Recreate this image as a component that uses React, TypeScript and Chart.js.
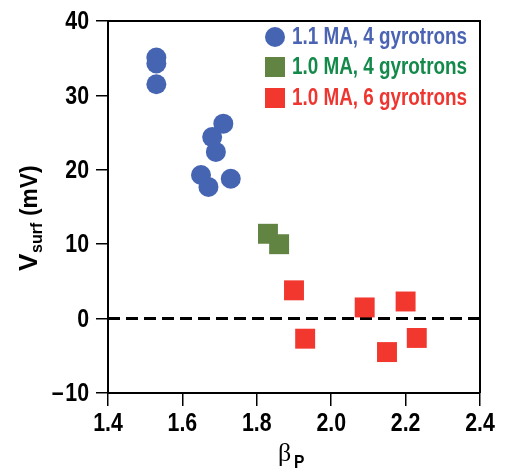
import React, { useEffect, useRef } from 'react';
import { Chart, registerables } from 'chart.js';
Chart.register(...registerables);

const seriesLabels = ['1.1 MA, 4 gyrotrons', '1.0 MA, 4 gyrotrons', '1.0 MA, 6 gyrotrons'];
const blueX = [1.53, 1.53, 1.53, 1.71, 1.68, 1.69, 1.65, 1.67, 1.73];
const blueY = [35.1, 34.3, 31.5, 26.2, 24.4, 22.4, 19.3, 17.7, 18.8];
const greenX = [1.83, 1.86];
const greenY = [11.4, 10.0];
const redX = [1.9, 1.93, 2.09, 2.2, 2.15, 2.23];
const redY = [3.8, -2.7, 1.5, 2.3, -4.5, -2.6];
const xTicks = [1.4, 1.6, 1.8, 2.0, 2.2, 2.4];
const yTicks = [-10, 0, 10, 20, 30, 40];
const zeroLine = [0, 0];

const FONT = '"Liberation Sans", Arial, sans-serif';
const SQZ = 0.82;
const markerColors = ['#4565B3', '#628443', '#F2372E'];
const textColors = ['#4A63B2', '#13894A', '#EE3530'];

const pts = (xs: number[], ys: number[]) => xs.map((x, i) => ({ x, y: ys[i] }));

function narrowText(ctx: any, text: string, x: number, y: number, align: 'left' | 'right' | 'center', sq: number = SQZ) {
  const w = ctx.measureText(text).width * sq;
  let x0 = x;
  if (align === 'right') x0 = x - w;
  else if (align === 'center') x0 = x - w / 2;
  ctx.save();
  ctx.translate(x0, y);
  ctx.scale(sq, 1);
  ctx.textAlign = 'left';
  ctx.fillText(text, 0, 0);
  ctx.restore();
  return w;
}

const xLabel = (v: number) => v.toFixed(1);
const yLabel = (v: number) => (v < 0 ? '\u2013\u200A' + Math.abs(v) : String(v));

const decorPlugin = {
  id: 'decor',
  afterDraw(chart: any) {
    const ctx = chart.ctx;
    const a = chart.chartArea;
    ctx.save();
    // frame top & right
    ctx.strokeStyle = '#000';
    ctx.lineWidth = 2;
    ctx.beginPath();
    ctx.moveTo(a.left, a.top);
    ctx.lineTo(a.right, a.top);
    ctx.lineTo(a.right, a.bottom);
    ctx.stroke();

    // tick labels (condensed)
    ctx.fillStyle = '#000';
    ctx.font = `bold 26px ${FONT}`;
    ctx.textBaseline = 'middle';
    const xs = chart.scales.x;
    xs.ticks.forEach((t: any) => {
      narrowText(ctx, xLabel(t.value), xs.getPixelForValue(t.value), 424, 'center');
    });
    const ys = chart.scales.y;
    ys.ticks.forEach((t: any) => {
      narrowText(ctx, yLabel(t.value), 89, ys.getPixelForValue(t.value) + 1, 'right');
    });

    // legend
    const lx = 275;
    const ly = [37, 67, 98];
    const shapes = ['circle', 'rect', 'rect'];
    ctx.font = `bold 23px ${FONT}`;
    ctx.textBaseline = 'middle';
    seriesLabels.forEach((lab, i) => {
      ctx.fillStyle = markerColors[i];
      if (shapes[i] === 'circle') {
        ctx.beginPath();
        ctx.arc(lx, ly[i], 10, 0, Math.PI * 2);
        ctx.fill();
      } else {
        ctx.fillRect(lx - 10, ly[i] - 10, 20, 20);
      }
      ctx.fillStyle = textColors[i];
      narrowText(ctx, lab, lx + 17, ly[i] + 1, 'left');
    });

    // y title
    ctx.save();
    ctx.translate(37, 0);
    ctx.rotate(-Math.PI / 2);
    ctx.fillStyle = '#000';
    ctx.textBaseline = 'alphabetic';
    ctx.font = `bold 26px ${FONT}`;
    narrowText(ctx, 'V', -271, 0, 'left', 1);
    ctx.font = `bold 16px ${FONT}`;
    narrowText(ctx, 'surf', -253, 5, 'left', 1);
    ctx.font = `bold 24px ${FONT}`;
    narrowText(ctx, '(mV)', -216, 0, 'left', 0.95);
    ctx.restore();

    // x title
    ctx.fillStyle = '#000';
    ctx.textBaseline = 'alphabetic';
    ctx.textAlign = 'left';
    ctx.font = `26px "Liberation Serif", serif`;
    ctx.fillText('\u03B2', 278, 461);
    ctx.font = `bold 19px ${FONT}`;
    narrowText(ctx, 'P', 294, 468, 'left');
    ctx.restore();
  },
};

export default function App() {
  const ref = useRef<HTMLCanvasElement>(null);
  useEffect(() => {
    document.body.style.margin = '0';
    const canvas = ref.current!;
    const chart = new Chart(canvas, {
      type: 'scatter',
      data: {
        datasets: [
          {
            label: seriesLabels[0],
            data: pts(blueX, blueY),
            pointStyle: 'circle',
            pointRadius: 10,
            pointHoverRadius: 10,
            backgroundColor: markerColors[0],
            borderColor: markerColors[0],
            borderWidth: 0,
            order: 1,
          },
          {
            label: seriesLabels[1],
            data: pts(greenX, greenY),
            pointStyle: 'rect',
            pointRadius: 14.1,
            pointHoverRadius: 14.1,
            backgroundColor: markerColors[1],
            borderColor: markerColors[1],
            borderWidth: 0,
            order: 1,
          },
          {
            label: seriesLabels[2],
            data: pts(redX, redY),
            pointStyle: 'rect',
            pointRadius: 14.1,
            pointHoverRadius: 14.1,
            backgroundColor: markerColors[2],
            borderColor: markerColors[2],
            borderWidth: 0,
            order: 1,
          },
          {
            type: 'line',
            label: 'zero',
            data: pts([xTicks[0], xTicks[xTicks.length - 1]], zeroLine),
            borderColor: '#000',
            borderWidth: 3,
            borderDash: [12, 6],
            pointRadius: 0,
            showLine: true,
            fill: false,
            order: 10,
          } as any,
        ],
      },
      options: {
        responsive: false,
        animation: false,
        layout: { padding: { left: 0, right: 27, top: 21, bottom: 0 } },
        plugins: { legend: { display: false }, tooltip: { enabled: false } },
        scales: {
          x: {
            type: 'linear',
            min: 1.4,
            max: 2.4,
            afterBuildTicks: (s: any) => { s.ticks = xTicks.map((v) => ({ value: v })); },
            afterFit: (s: any) => { s.height = 83; },
            grid: { display: true, drawOnChartArea: false, drawTicks: true, tickLength: 13, color: '#000', lineWidth: 1.5 },
            border: { display: true, color: '#000', width: 2 },
            ticks: { display: false },
          },
          y: {
            type: 'linear',
            min: -10,
            max: 40,
            afterBuildTicks: (s: any) => { s.ticks = yTicks.map((v) => ({ value: v })); },
            afterFit: (s: any) => { s.width = 108; },
            grid: { display: true, drawOnChartArea: false, drawTicks: true, tickLength: 12, color: '#000', lineWidth: 1.5 },
            border: { display: true, color: '#000', width: 2 },
            ticks: { display: false },
          },
        },
      },
      plugins: [decorPlugin],
    } as any);
    return () => chart.destroy();
  }, []);
  return <canvas ref={ref} width={507} height={476} style={{ display: 'block' }} />;
}
